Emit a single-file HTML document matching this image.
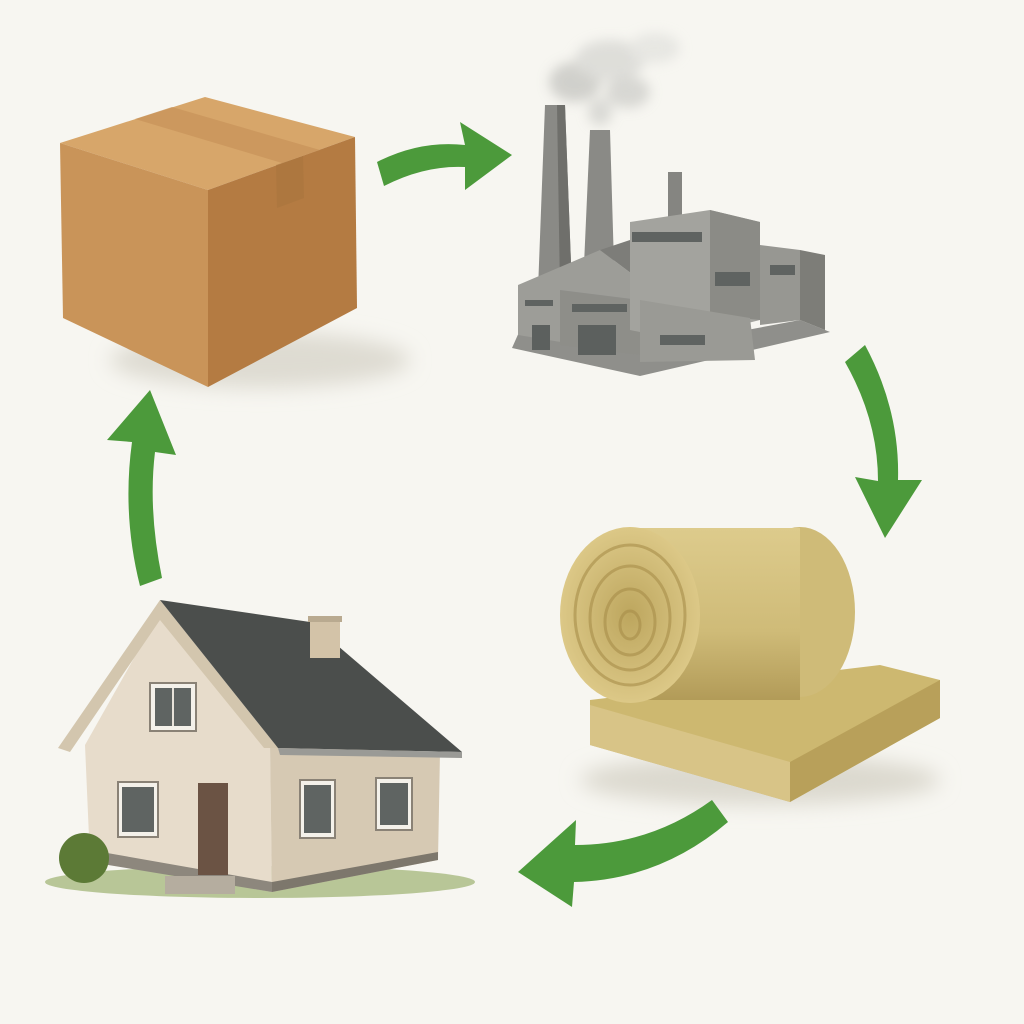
<!DOCTYPE html>
<html><head><meta charset="utf-8"><style>
html,body{margin:0;padding:0;background:#f7f6f1;}
svg{display:block}
</style></head><body>
<svg width="1024" height="1024" viewBox="0 0 1024 1024" xmlns="http://www.w3.org/2000/svg">
<defs>
<filter id="blur" x="-50%" y="-50%" width="200%" height="200%"><feGaussianBlur stdDeviation="10"/></filter>
<filter id="sblur" x="-50%" y="-50%" width="200%" height="200%"><feGaussianBlur stdDeviation="6"/></filter>
<radialGradient id="rollEnd" cx="50%" cy="50%" r="50%">
<stop offset="0" stop-color="#bda65e"/><stop offset="1" stop-color="#dcc887"/></radialGradient>
<linearGradient id="rollBody" x1="0" y1="0" x2="0" y2="1">
<stop offset="0" stop-color="#ddcb8c"/><stop offset="0.6" stop-color="#cfbb78"/><stop offset="1" stop-color="#b29b58"/></linearGradient>
</defs>
<rect width="1024" height="1024" fill="#f7f6f1"/>

<ellipse cx="260" cy="360" rx="150" ry="28" fill="#dedbd2" filter="url(#blur)"/>
<polygon points="60,143 205,97 355,137 208,190" fill="#d7a66a"/>
<polygon points="60,143 208,190 208,387 63,318" fill="#c99459"/>
<polygon points="208,190 355,137 357,308 208,387" fill="#b47b42"/>
<polygon points="135,119 172,107 320,150 282,163" fill="#c7935a" opacity="0.7"/>
<polygon points="276,165 303,156 304,198 277,208" fill="#a8743d" opacity="0.6"/>

<polygon points="512,348 640,376 830,332 800,320 640,350 520,330" fill="#8f8f8b"/>
<g filter="url(#sblur)" opacity="0.75">
<ellipse cx="575" cy="82" rx="26" ry="20" fill="#c4c4c0"/>
<ellipse cx="610" cy="60" rx="35" ry="20" fill="#d6d6d2"/>
<ellipse cx="628" cy="92" rx="22" ry="16" fill="#cdcdc9"/>
<ellipse cx="655" cy="48" rx="25" ry="15" fill="#e2e2de"/>
<ellipse cx="600" cy="112" rx="12" ry="14" fill="#d0d0cc"/>
</g>
<polygon points="545,105 565,105 572,290 538,290" fill="#8a8a86"/>
<polygon points="565,105 572,290 560,290 557,105" fill="#6f6f6b"/>
<polygon points="590,130 610,130 614,265 584,265" fill="#8a8a86"/>
<rect x="668" y="172" width="14" height="50" fill="#858581"/>
<polygon points="518,285 600,250 640,280 640,355 518,335" fill="#9d9d98"/>
<polygon points="600,250 640,280 670,262 630,240" fill="#7d7d79"/>
<polygon points="560,290 640,300 640,355 560,345" fill="#8e8e89"/>
<polygon points="630,222 710,210 760,222 760,320 680,340 630,330" fill="#a3a39e"/>
<polygon points="710,210 760,222 760,320 710,315" fill="#8b8b86"/>
<polygon points="760,245 800,250 800,320 760,325" fill="#979792"/>
<polygon points="800,250 825,255 825,330 800,320" fill="#7d7d78"/>
<polygon points="640,300 750,318 755,360 640,362" fill="#9a9a95"/>
<rect x="632" y="232" width="70" height="10" fill="#5f6361"/>
<rect x="572" y="304" width="55" height="8" fill="#5f6361"/>
<rect x="525" y="300" width="28" height="6" fill="#5f6361"/>
<rect x="532" y="325" width="18" height="25" fill="#5c605e"/>
<rect x="578" y="325" width="38" height="30" fill="#5c605e"/>
<rect x="715" y="272" width="35" height="14" fill="#5f6361"/>
<rect x="660" y="335" width="45" height="10" fill="#5f6361"/>
<rect x="770" y="265" width="25" height="10" fill="#5f6361"/>

<ellipse cx="760" cy="780" rx="180" ry="25" fill="#dcd9cf" filter="url(#blur)"/>
<polygon points="590,700 880,665 940,680 940,718 790,802 590,745" fill="#cdb870"/>
<polygon points="790,762 940,680 940,718 790,802" fill="#b8a05a"/>
<polygon points="590,705 790,762 790,802 590,745" fill="#d8c487"/>
<ellipse cx="800" cy="612" rx="55" ry="85" fill="#cfbb78"/>
<rect x="630" y="528" width="170" height="172" fill="url(#rollBody)"/>
<ellipse cx="630" cy="615" rx="70" ry="88" fill="url(#rollEnd)"/>
<g fill="none" stroke="#a88e4a" stroke-width="3" opacity="0.6">
<ellipse cx="630" cy="615" rx="55" ry="70"/>
<ellipse cx="630" cy="618" rx="40" ry="52"/>
<ellipse cx="630" cy="622" rx="25" ry="33"/>
<ellipse cx="630" cy="625" rx="10" ry="14"/>
</g>

<ellipse cx="260" cy="882" rx="215" ry="16" fill="#8ea75c" opacity="0.6"/>
<polygon points="90,860 85,745 160,612 270,745 272,892" fill="#e7dccb"/>
<polygon points="270,745 440,752 438,860 272,892" fill="#d6c9b3"/>
<polygon points="90,850 272,882 272,892 90,862" fill="#8d877d"/>
<polygon points="272,882 438,852 438,860 272,892" fill="#7d776c"/>
<polygon points="58,748 160,600 278,748 264,748 160,620 70,752" fill="#d3c6ae"/>
<polygon points="160,600 310,622 462,752 278,748" fill="#4b4e4c"/>
<polygon points="278,748 462,752 462,758 280,755" fill="#9a9a96"/>
<rect x="310" y="620" width="30" height="38" fill="#d3c3a8"/>
<rect x="308" y="616" width="34" height="6" fill="#b9aa90"/>
<rect x="150" y="683" width="46" height="48" fill="#f4f1ea" stroke="#8a8276" stroke-width="2"/>
<rect x="155" y="688" width="36" height="38" fill="#5f6462"/>
<rect x="172" y="688" width="2" height="38" fill="#e8e3da"/>
<rect x="118" y="782" width="40" height="55" fill="#f4f1ea" stroke="#8a8276" stroke-width="2"/>
<rect x="122" y="787" width="32" height="45" fill="#5f6462"/>
<rect x="198" y="783" width="30" height="92" fill="#6b5344"/>
<rect x="300" y="780" width="35" height="58" fill="#f4f1ea" stroke="#8a8276" stroke-width="2"/>
<rect x="304" y="785" width="27" height="48" fill="#5f6462"/>
<rect x="376" y="778" width="36" height="52" fill="#f4f1ea" stroke="#8a8276" stroke-width="2"/>
<rect x="380" y="783" width="28" height="42" fill="#5f6462"/>
<rect x="165" y="876" width="70" height="18" fill="#b5ad9f"/>
<circle cx="84" cy="858" r="25" fill="#5c7a36"/>

<g fill="#4c9a3b">
<path d="M377,162 Q420,140 465,145 L460,122 L512,155 L465,190 L465,167 Q425,165 384,186 Z"/>
<path d="M845,362 L865,345 Q900,410 898,480 L922,480 L885,538 L855,477 L878,481 Q878,420 845,362 Z"/>
<path d="M728,822 L712,800 Q650,845 575,845 L576,820 L518,872 L572,907 L574,882 Q660,880 728,822 Z"/>
<path d="M140,586 L162,578 Q148,510 155,452 L176,455 L150,390 L107,440 L132,442 Q122,515 140,586 Z"/>
</g>
</svg>
</body></html>
